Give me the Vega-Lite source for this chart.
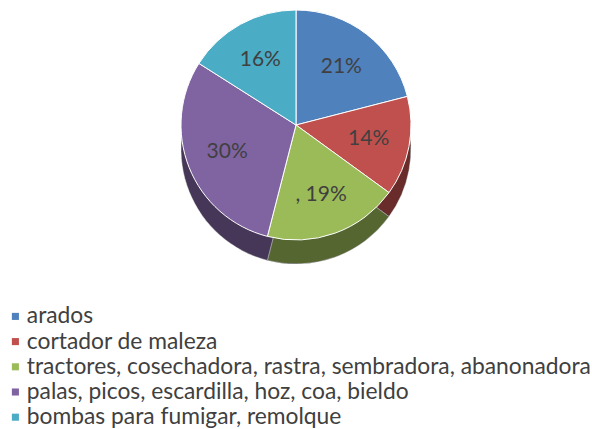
{
  "$schema": "https://vega.github.io/schema/vega-lite/v6.json",
  "width": 592,
  "height": 250,
  "padding": 0,
  "background": "white",
  "data": {"values": [
    {"idx": 1, "item": "arados", "pct": 21, "label": "21%"},
    {"idx": 2, "item": "cortador de maleza", "pct": 14, "label": "14%"},
    {"idx": 3, "item": "tractores, cosechadora, rastra, sembradora, abanonadora", "pct": 19, "label": ", 19%"},
    {"idx": 4, "item": "palas, picos, escardilla, hoz,  coa, bieldo", "pct": 30, "label": "30%"},
    {"idx": 5, "item": "bombas para fumigar, remolque", "pct": 16, "label": "16%"}
  ]},
  "encoding": {
    "theta": {"field": "pct", "type": "quantitative", "stack": true},
    "order": {"field": "idx", "type": "quantitative"}
  },
  "layer": [
    {
      "mark": {"type": "arc", "outerRadius": 115, "yOffset": 24, "stroke": "white", "strokeWidth": 1},
      "encoding": {
        "color": {"field": "item", "type": "nominal", "sort": null,
          "scale": {"domain": ["arados", "cortador de maleza", "tractores, cosechadora, rastra, sembradora, abanonadora", "palas, picos, escardilla, hoz,  coa, bieldo", "bombas para fumigar, remolque"],
                    "range": ["#4F81BD", "#C0504D", "#9BBB59", "#8064A2", "#4BACC6"]},
          "legend": {"title": null, "orient": "none", "legendX": 4, "legendY": 305, "symbolType": "square", "symbolSize": 50, "symbolOffset": 0, "labelOffset": 0, "labelFont": "Lato", "labelFontSize": 22.8, "labelColor": "#404040", "rowPadding": 1.2, "labelLimit": 700, "symbolStrokeWidth": 0}
        }
      }
    },
    {
      "mark": {"type": "arc", "outerRadius": 115, "yOffset": 24, "fill": "black", "opacity": 0.45},
      "encoding": {"detail": {"field": "item"}}
    },
    {
      "mark": {"type": "arc", "outerRadius": 115, "stroke": "white", "strokeWidth": 1},
      "encoding": {"color": {"field": "item", "type": "nominal", "sort": null}}
    },
    {
      "mark": {"type": "text", "radius": 74, "font": "Lato", "fontSize": 21, "fill": "#404040"},
      "encoding": {"text": {"field": "label"}, "detail": {"field": "item"}}
    }
  ]
}
